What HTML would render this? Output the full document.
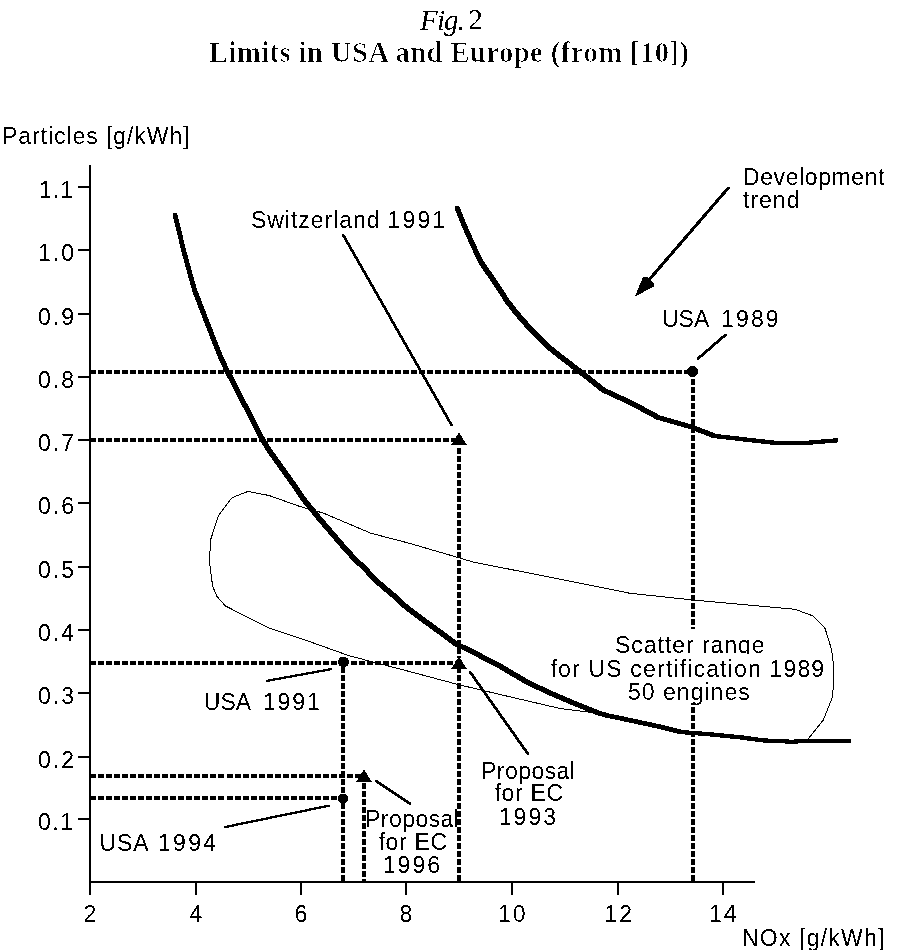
<!DOCTYPE html>
<html><head><meta charset="utf-8"><title>Fig. 2 Limits in USA and Europe (from [10])</title>
<style>html,body{margin:0;padding:0;background:#fff;overflow:hidden}svg{display:block}text{white-space:pre}</style></head>
<body><svg width="900" height="950" viewBox="0 0 900 950" font-family="Liberation Sans, Arial, Helvetica, sans-serif" font-size="23" fill="#000">
<rect width="900" height="950" fill="#fff"/>
<defs><filter id="bw" x="0" y="0" width="900" height="950" filterUnits="userSpaceOnUse" color-interpolation-filters="sRGB"><feColorMatrix type="matrix" values="0 0 0 0 0  0 0 0 0 0  0 0 0 0 0  -0.3333 -0.3333 -0.3333 1 0"/><feComponentTransfer><feFuncA type="discrete" tableValues="0 1"/></feComponentTransfer></filter></defs><g shape-rendering="crispEdges"><rect x="89" y="165" width="2" height="730"/>
<rect x="89" y="881" width="666" height="2"/>
<rect x="78" y="186" width="11" height="2"/>
<rect x="78" y="249" width="11" height="2"/>
<rect x="78" y="313" width="11" height="2"/>
<rect x="78" y="376" width="11" height="2"/>
<rect x="78" y="439" width="11" height="2"/>
<rect x="78" y="502" width="11" height="2"/>
<rect x="78" y="566" width="11" height="2"/>
<rect x="78" y="629" width="11" height="2"/>
<rect x="78" y="692" width="11" height="2"/>
<rect x="78" y="756" width="11" height="2"/>
<rect x="78" y="818" width="11" height="2"/>
<rect x="89" y="883" width="2" height="12"/>
<rect x="195" y="883" width="2" height="12"/>
<rect x="300" y="883" width="2" height="12"/>
<rect x="405" y="883" width="2" height="12"/>
<rect x="511" y="883" width="2" height="12"/>
<rect x="617" y="883" width="2" height="12"/>
<rect x="722" y="883" width="2" height="12"/>
<path d="M232,497.7 L248,491.4 L269,495.5 L300.2,506.6 L323.1,513 L370.8,533.2 L409.8,543.4 L459,557.8 L473.4,562.1 L557.2,578.6 L630,593.3 L693.3,600 L795,609.3 L813.3,616 L825,628.3 L831.7,650 L834,670 L832.7,696.7 L823.3,720 L810,736.7 L806,741 L766.7,740 L682.5,731.3 L604,714 L560,708.5 L500,694.5 L458,684.5 L400,669 L350,656 L300,638.2 L269,628.1 L225.3,605.9 L216.8,596.2 L212.6,586 L209.3,560.8 L210.9,538.9 L218.5,515.4 Z" fill="none" stroke="#000" stroke-width="1" stroke-linejoin="round" stroke-linecap="butt"/>
<path d="M173.1,213 L177.1,213 L186.2,250.6 L186.2,254.6 L182.2,254.6 L173.1,217ZM182.2,250.6 L186.2,250.6 L196.5,288 L196.5,292 L192.5,292 L182.2,254.6ZM192.5,288 L196.5,288 L209.8,322.7 L209.8,326.7 L205.8,326.7 L192.5,292ZM205.8,322.7 L209.8,322.7 L223.7,357.5 L223.7,361.5 L219.7,361.5 L205.8,326.7ZM219.7,357.5 L223.7,357.5 L229.1,369 L229.1,373 L225.1,373 L219.7,361.5ZM225.1,369 L229.1,369 L241.3,392.2 L241.3,396.2 L237.3,396.2 L225.1,373ZM237.3,392.2 L241.3,392.2 L244.2,398 L244.2,402 L240.2,402 L237.3,396.2ZM240.2,398 L244.2,398 L255.6,420.2 L255.6,424.2 L251.6,424.2 L240.2,402ZM251.6,420.2 L255.6,420.2 L260.9,431.3 L260.9,435.3 L256.9,435.3 L251.6,424.2ZM256.9,431.3 L260.9,431.3 L270.9,448 L270.9,452 L266.9,452 L256.9,435.3ZM266.9,448 L270.9,448 L282.8,464.7 L282.8,468.7 L278.8,468.7 L266.9,452ZM278.8,464.7 L282.8,464.7 L294.8,481.3 L294.8,485.3 L290.8,485.3 L278.8,468.7ZM290.8,481.3 L294.8,481.3 L306.1,498 L306.1,502 L302.1,502 L290.8,485.3ZM302.1,498 L306.1,498 L319.8,514.7 L319.8,518.7 L315.8,518.7 L302.1,502ZM315.8,514.7 L319.8,514.7 L333.9,531.3 L333.9,535.3 L329.9,535.3 L315.8,518.7ZM329.9,531.3 L333.9,531.3 L348.3,548 L348.3,552 L344.3,552 L329.9,535.3ZM344.3,548 L348.3,548 L356.1,556.3 L356.1,560.3 L352.1,560.3 L344.3,552ZM352.1,556.3 L356.1,556.3 L364.8,564.7 L364.8,568.7 L360.8,568.7 L352.1,560.3ZM360.8,564.7 L364.8,564.7 L381.1,581.3 L381.1,585.3 L377.1,585.3 L360.8,568.7ZM377.1,581.3 L381.1,581.3 L397,594.7 L397,598.7 L393,598.7 L377.1,585.3ZM393,594.7 L397,594.7 L403.1,601 L403.1,605 L399.1,605 L393,598.7ZM399.1,601 L403.1,601 L414.2,609.7 L414.2,613.7 L410.2,613.7 L399.1,605ZM410.2,609.7 L414.2,609.7 L425.3,618 L425.3,622 L421.3,622 L410.2,613.7ZM421.3,618 L425.3,618 L436.4,626 L436.4,630 L432.4,630 L421.3,622ZM432.4,626 L436.4,626 L447.6,634.1 L447.6,638.1 L443.6,638.1 L432.4,630ZM443.6,634.1 L447.6,634.1 L458.7,642.4 L458.7,646.4 L454.7,646.4 L443.6,638.1ZM454.7,642.4 L458.7,642.4 L469.8,647.4 L469.8,651.4 L465.8,651.4 L454.7,646.4ZM465.8,647.4 L469.8,647.4 L480.9,653.2 L480.9,657.2 L476.9,657.2 L465.8,651.4ZM476.9,653.2 L480.9,653.2 L492,658.8 L492,662.8 L488,662.8 L476.9,657.2ZM488,658.8 L492,658.8 L505.3,666 L505.3,670 L501.3,670 L488,662.8ZM501.3,666 L505.3,666 L528.7,680 L528.7,684 L524.7,684 L501.3,670ZM524.7,680 L528.7,680 L552,690.9 L552,694.9 L548,694.9 L524.7,684ZM548,690.9 L552,690.9 L575.3,701 L575.3,705 L571.3,705 L548,694.9ZM571.3,701 L575.3,701 L598.6,710.3 L598.6,714.3 L594.6,714.3 L571.3,705ZM594.6,710.3 L598.6,710.3 L609.5,713.7 L609.5,717.7 L605.5,717.7 L594.6,714.3ZM605.5,713.7 L609.5,713.7 L622,716.1 L622,720.1 L618,720.1 L605.5,717.7ZM618,716.1 L622,716.1 L633.1,718.5 L633.1,722.5 L629.1,722.5 L618,720.1ZM629.1,718.5 L633.1,718.5 L664.2,725.2 L664.2,729.2 L660.2,729.2 L629.1,722.5ZM660.2,725.2 L664.2,725.2 L682.9,730 L682.9,734 L678.9,734 L660.2,729.2ZM678.9,730 L682.9,730 L710.9,732.2 L710.9,736.2 L706.9,736.2 L678.9,734ZM706.9,732.2 L710.9,732.2 L742,735.3 L742,739.3 L738,739.3 L706.9,736.2ZM738,735.3 L742,735.3 L765.2,738.4 L765.2,742.4 L761.2,742.4 L738,739.3ZM761.2,738.4 L765.2,738.4 L792.7,739.7 L792.7,743.7 L788.7,743.7 L761.2,742.4ZM788.7,739.7 L814.7,738.8 L818.7,738.8 L818.7,742.8 L792.7,743.7 L788.7,743.7ZM814.7,738.8 L851,738.8 L851,742.8 L814.7,742.8Z"/>
<path d="M455.3,206.1 L459.3,206.1 L466.2,223.3 L466.2,227.3 L462.2,227.3 L455.3,210.1ZM462.2,223.3 L466.2,223.3 L474.5,242.3 L474.5,246.3 L470.5,246.3 L462.2,227.3ZM470.5,242.3 L474.5,242.3 L483.7,261.3 L483.7,265.3 L479.7,265.3 L470.5,246.3ZM479.7,261.3 L483.7,261.3 L488.1,267.6 L488.1,271.6 L484.1,271.6 L479.7,265.3ZM484.1,267.6 L488.1,267.6 L497,280.3 L497,284.3 L493,284.3 L484.1,271.6ZM493,280.3 L497,280.3 L509.3,299.3 L509.3,303.3 L505.3,303.3 L493,284.3ZM505.3,299.3 L509.3,299.3 L518.7,311.3 L518.7,315.3 L514.7,315.3 L505.3,303.3ZM514.7,311.3 L518.7,311.3 L532,326.7 L532,330.7 L528,330.7 L514.7,315.3ZM528,326.7 L532,326.7 L552,346.3 L552,350.3 L548,350.3 L528,330.7ZM548,346.3 L552,346.3 L562.7,354.7 L562.7,358.7 L558.7,358.7 L548,350.3ZM558.7,354.7 L562.7,354.7 L578.7,367 L578.7,371 L574.7,371 L558.7,358.7ZM574.7,367 L578.7,367 L592,377.3 L592,381.3 L588,381.3 L574.7,371ZM588,377.3 L592,377.3 L605.3,388 L605.3,392 L601.3,392 L588,381.3ZM601.3,388 L605.3,388 L618.7,394.3 L618.7,398.3 L614.7,398.3 L601.3,392ZM614.7,394.3 L618.7,394.3 L632,400.3 L632,404.3 L628,404.3 L614.7,398.3ZM628,400.3 L632,400.3 L660.4,415.6 L660.4,419.6 L656.4,419.6 L628,404.3ZM656.4,415.6 L660.4,415.6 L693.6,425.1 L693.6,429.1 L689.6,429.1 L656.4,419.6ZM689.6,425.1 L693.6,425.1 L716.6,434 L716.6,438 L712.6,438 L689.6,429.1ZM712.6,434 L716.6,434 L775.5,440.7 L775.5,444.7 L771.5,444.7 L712.6,438ZM771.5,440.7 L811.3,440.7 L811.3,444.7 L771.5,444.7ZM807.3,440.7 L834,438.4 L838,438.4 L838,442.4 L811.3,444.7 L807.3,444.7Z"/>
<rect x="90" y="370" width="6" height="4"/>
<rect x="98.03" y="370" width="6" height="4"/>
<rect x="106.06" y="370" width="6" height="4"/>
<rect x="114.09" y="370" width="6" height="4"/>
<rect x="122.12" y="370" width="6" height="4"/>
<rect x="130.15" y="370" width="6" height="4"/>
<rect x="138.18" y="370" width="6" height="4"/>
<rect x="146.21" y="370" width="6" height="4"/>
<rect x="154.24" y="370" width="6" height="4"/>
<rect x="162.27" y="370" width="6" height="4"/>
<rect x="170.3" y="370" width="6" height="4"/>
<rect x="178.33" y="370" width="6" height="4"/>
<rect x="186.36" y="370" width="6" height="4"/>
<rect x="194.39" y="370" width="6" height="4"/>
<rect x="202.42" y="370" width="6" height="4"/>
<rect x="210.45" y="370" width="6" height="4"/>
<rect x="218.48" y="370" width="6" height="4"/>
<rect x="226.51" y="370" width="6" height="4"/>
<rect x="234.54" y="370" width="6" height="4"/>
<rect x="242.57" y="370" width="6" height="4"/>
<rect x="250.6" y="370" width="6" height="4"/>
<rect x="258.63" y="370" width="6" height="4"/>
<rect x="266.66" y="370" width="6" height="4"/>
<rect x="274.69" y="370" width="6" height="4"/>
<rect x="282.72" y="370" width="6" height="4"/>
<rect x="290.75" y="370" width="6" height="4"/>
<rect x="298.78" y="370" width="6" height="4"/>
<rect x="306.81" y="370" width="6" height="4"/>
<rect x="314.84" y="370" width="6" height="4"/>
<rect x="322.87" y="370" width="6" height="4"/>
<rect x="330.9" y="370" width="6" height="4"/>
<rect x="338.93" y="370" width="6" height="4"/>
<rect x="346.96" y="370" width="6" height="4"/>
<rect x="354.99" y="370" width="6" height="4"/>
<rect x="363.02" y="370" width="6" height="4"/>
<rect x="371.05" y="370" width="6" height="4"/>
<rect x="379.08" y="370" width="6" height="4"/>
<rect x="387.11" y="370" width="6" height="4"/>
<rect x="395.14" y="370" width="6" height="4"/>
<rect x="403.17" y="370" width="6" height="4"/>
<rect x="411.2" y="370" width="6" height="4"/>
<rect x="419.23" y="370" width="6" height="4"/>
<rect x="427.26" y="370" width="6" height="4"/>
<rect x="435.29" y="370" width="6" height="4"/>
<rect x="443.32" y="370" width="6" height="4"/>
<rect x="451.35" y="370" width="6" height="4"/>
<rect x="459.38" y="370" width="6" height="4"/>
<rect x="467.41" y="370" width="6" height="4"/>
<rect x="475.44" y="370" width="6" height="4"/>
<rect x="483.47" y="370" width="6" height="4"/>
<rect x="491.5" y="370" width="6" height="4"/>
<rect x="499.53" y="370" width="6" height="4"/>
<rect x="507.56" y="370" width="6" height="4"/>
<rect x="515.59" y="370" width="6" height="4"/>
<rect x="523.62" y="370" width="6" height="4"/>
<rect x="531.65" y="370" width="6" height="4"/>
<rect x="539.68" y="370" width="6" height="4"/>
<rect x="547.71" y="370" width="6" height="4"/>
<rect x="555.74" y="370" width="6" height="4"/>
<rect x="563.77" y="370" width="6" height="4"/>
<rect x="571.8" y="370" width="6" height="4"/>
<rect x="579.83" y="370" width="6" height="4"/>
<rect x="587.86" y="370" width="6" height="4"/>
<rect x="595.89" y="370" width="6" height="4"/>
<rect x="603.92" y="370" width="6" height="4"/>
<rect x="611.95" y="370" width="6" height="4"/>
<rect x="619.98" y="370" width="6" height="4"/>
<rect x="628.01" y="370" width="6" height="4"/>
<rect x="636.04" y="370" width="6" height="4"/>
<rect x="644.07" y="370" width="6" height="4"/>
<rect x="652.1" y="370" width="6" height="4"/>
<rect x="660.13" y="370" width="6" height="4"/>
<rect x="668.16" y="370" width="6" height="4"/>
<rect x="676.19" y="370" width="6" height="4"/>
<rect x="684.22" y="370" width="5.78" height="4"/>
<rect x="90" y="438" width="6" height="4"/>
<rect x="98.03" y="438" width="6" height="4"/>
<rect x="106.06" y="438" width="6" height="4"/>
<rect x="114.09" y="438" width="6" height="4"/>
<rect x="122.12" y="438" width="6" height="4"/>
<rect x="130.15" y="438" width="6" height="4"/>
<rect x="138.18" y="438" width="6" height="4"/>
<rect x="146.21" y="438" width="6" height="4"/>
<rect x="154.24" y="438" width="6" height="4"/>
<rect x="162.27" y="438" width="6" height="4"/>
<rect x="170.3" y="438" width="6" height="4"/>
<rect x="178.33" y="438" width="6" height="4"/>
<rect x="186.36" y="438" width="6" height="4"/>
<rect x="194.39" y="438" width="6" height="4"/>
<rect x="202.42" y="438" width="6" height="4"/>
<rect x="210.45" y="438" width="6" height="4"/>
<rect x="218.48" y="438" width="6" height="4"/>
<rect x="226.51" y="438" width="6" height="4"/>
<rect x="234.54" y="438" width="6" height="4"/>
<rect x="242.57" y="438" width="6" height="4"/>
<rect x="250.6" y="438" width="6" height="4"/>
<rect x="258.63" y="438" width="6" height="4"/>
<rect x="266.66" y="438" width="6" height="4"/>
<rect x="274.69" y="438" width="6" height="4"/>
<rect x="282.72" y="438" width="6" height="4"/>
<rect x="290.75" y="438" width="6" height="4"/>
<rect x="298.78" y="438" width="6" height="4"/>
<rect x="306.81" y="438" width="6" height="4"/>
<rect x="314.84" y="438" width="6" height="4"/>
<rect x="322.87" y="438" width="6" height="4"/>
<rect x="330.9" y="438" width="6" height="4"/>
<rect x="338.93" y="438" width="6" height="4"/>
<rect x="346.96" y="438" width="6" height="4"/>
<rect x="354.99" y="438" width="6" height="4"/>
<rect x="363.02" y="438" width="6" height="4"/>
<rect x="371.05" y="438" width="6" height="4"/>
<rect x="379.08" y="438" width="6" height="4"/>
<rect x="387.11" y="438" width="6" height="4"/>
<rect x="395.14" y="438" width="6" height="4"/>
<rect x="403.17" y="438" width="6" height="4"/>
<rect x="411.2" y="438" width="6" height="4"/>
<rect x="419.23" y="438" width="6" height="4"/>
<rect x="427.26" y="438" width="6" height="4"/>
<rect x="435.29" y="438" width="6" height="4"/>
<rect x="443.32" y="438" width="6" height="4"/>
<rect x="451.35" y="438" width="6" height="4"/>
<rect x="90" y="661" width="6" height="4"/>
<rect x="98.03" y="661" width="6" height="4"/>
<rect x="106.06" y="661" width="6" height="4"/>
<rect x="114.09" y="661" width="6" height="4"/>
<rect x="122.12" y="661" width="6" height="4"/>
<rect x="130.15" y="661" width="6" height="4"/>
<rect x="138.18" y="661" width="6" height="4"/>
<rect x="146.21" y="661" width="6" height="4"/>
<rect x="154.24" y="661" width="6" height="4"/>
<rect x="162.27" y="661" width="6" height="4"/>
<rect x="170.3" y="661" width="6" height="4"/>
<rect x="178.33" y="661" width="6" height="4"/>
<rect x="186.36" y="661" width="6" height="4"/>
<rect x="194.39" y="661" width="6" height="4"/>
<rect x="202.42" y="661" width="6" height="4"/>
<rect x="210.45" y="661" width="6" height="4"/>
<rect x="218.48" y="661" width="6" height="4"/>
<rect x="226.51" y="661" width="6" height="4"/>
<rect x="234.54" y="661" width="6" height="4"/>
<rect x="242.57" y="661" width="6" height="4"/>
<rect x="250.6" y="661" width="6" height="4"/>
<rect x="258.63" y="661" width="6" height="4"/>
<rect x="266.66" y="661" width="6" height="4"/>
<rect x="274.69" y="661" width="6" height="4"/>
<rect x="282.72" y="661" width="6" height="4"/>
<rect x="290.75" y="661" width="6" height="4"/>
<rect x="298.78" y="661" width="6" height="4"/>
<rect x="306.81" y="661" width="6" height="4"/>
<rect x="314.84" y="661" width="6" height="4"/>
<rect x="322.87" y="661" width="6" height="4"/>
<rect x="330.9" y="661" width="6" height="4"/>
<rect x="338.93" y="661" width="1.07" height="4"/>
<rect x="351" y="661" width="6" height="4"/>
<rect x="359" y="661" width="6" height="4"/>
<rect x="367" y="661" width="6" height="4"/>
<rect x="375" y="661" width="6" height="4"/>
<rect x="383" y="661" width="6" height="4"/>
<rect x="391" y="661" width="6" height="4"/>
<rect x="399" y="661" width="6" height="4"/>
<rect x="407" y="661" width="6" height="4"/>
<rect x="415" y="661" width="6" height="4"/>
<rect x="423" y="661" width="6" height="4"/>
<rect x="431" y="661" width="6" height="4"/>
<rect x="439" y="661" width="6" height="4"/>
<rect x="447" y="661" width="6" height="4"/>
<rect x="455" y="661" width="3" height="4"/>
<rect x="90" y="774" width="6" height="4"/>
<rect x="98.03" y="774" width="6" height="4"/>
<rect x="106.06" y="774" width="6" height="4"/>
<rect x="114.09" y="774" width="6" height="4"/>
<rect x="122.12" y="774" width="6" height="4"/>
<rect x="130.15" y="774" width="6" height="4"/>
<rect x="138.18" y="774" width="6" height="4"/>
<rect x="146.21" y="774" width="6" height="4"/>
<rect x="154.24" y="774" width="6" height="4"/>
<rect x="162.27" y="774" width="6" height="4"/>
<rect x="170.3" y="774" width="6" height="4"/>
<rect x="178.33" y="774" width="6" height="4"/>
<rect x="186.36" y="774" width="6" height="4"/>
<rect x="194.39" y="774" width="6" height="4"/>
<rect x="202.42" y="774" width="6" height="4"/>
<rect x="210.45" y="774" width="6" height="4"/>
<rect x="218.48" y="774" width="6" height="4"/>
<rect x="226.51" y="774" width="6" height="4"/>
<rect x="234.54" y="774" width="6" height="4"/>
<rect x="242.57" y="774" width="6" height="4"/>
<rect x="250.6" y="774" width="6" height="4"/>
<rect x="258.63" y="774" width="6" height="4"/>
<rect x="266.66" y="774" width="6" height="4"/>
<rect x="274.69" y="774" width="6" height="4"/>
<rect x="282.72" y="774" width="6" height="4"/>
<rect x="290.75" y="774" width="6" height="4"/>
<rect x="298.78" y="774" width="6" height="4"/>
<rect x="306.81" y="774" width="6" height="4"/>
<rect x="314.84" y="774" width="6" height="4"/>
<rect x="322.87" y="774" width="6" height="4"/>
<rect x="330.9" y="774" width="6" height="4"/>
<rect x="338.93" y="774" width="6" height="4"/>
<rect x="346.96" y="774" width="6" height="4"/>
<rect x="354.99" y="774" width="6" height="4"/>
<rect x="90" y="796" width="6" height="4"/>
<rect x="98.03" y="796" width="6" height="4"/>
<rect x="106.06" y="796" width="6" height="4"/>
<rect x="114.09" y="796" width="6" height="4"/>
<rect x="122.12" y="796" width="6" height="4"/>
<rect x="130.15" y="796" width="6" height="4"/>
<rect x="138.18" y="796" width="6" height="4"/>
<rect x="146.21" y="796" width="6" height="4"/>
<rect x="154.24" y="796" width="6" height="4"/>
<rect x="162.27" y="796" width="6" height="4"/>
<rect x="170.3" y="796" width="6" height="4"/>
<rect x="178.33" y="796" width="6" height="4"/>
<rect x="186.36" y="796" width="6" height="4"/>
<rect x="194.39" y="796" width="6" height="4"/>
<rect x="202.42" y="796" width="6" height="4"/>
<rect x="210.45" y="796" width="6" height="4"/>
<rect x="218.48" y="796" width="6" height="4"/>
<rect x="226.51" y="796" width="6" height="4"/>
<rect x="234.54" y="796" width="6" height="4"/>
<rect x="242.57" y="796" width="6" height="4"/>
<rect x="250.6" y="796" width="6" height="4"/>
<rect x="258.63" y="796" width="6" height="4"/>
<rect x="266.66" y="796" width="6" height="4"/>
<rect x="274.69" y="796" width="6" height="4"/>
<rect x="282.72" y="796" width="6" height="4"/>
<rect x="290.75" y="796" width="6" height="4"/>
<rect x="298.78" y="796" width="6" height="4"/>
<rect x="306.81" y="796" width="6" height="4"/>
<rect x="314.84" y="796" width="6" height="4"/>
<rect x="322.87" y="796" width="6" height="4"/>
<rect x="330.9" y="796" width="6" height="4"/>
<rect x="338.93" y="796" width="1.07" height="4"/>
<rect x="691" y="379" width="4" height="6"/>
<rect x="691" y="387" width="4" height="6"/>
<rect x="691" y="395" width="4" height="6"/>
<rect x="691" y="403" width="4" height="6"/>
<rect x="691" y="411" width="4" height="6"/>
<rect x="691" y="419" width="4" height="6"/>
<rect x="691" y="427" width="4" height="6"/>
<rect x="691" y="435" width="4" height="6"/>
<rect x="691" y="443" width="4" height="6"/>
<rect x="691" y="451" width="4" height="6"/>
<rect x="691" y="459" width="4" height="6"/>
<rect x="691" y="467" width="4" height="6"/>
<rect x="691" y="475" width="4" height="6"/>
<rect x="691" y="483" width="4" height="6"/>
<rect x="691" y="491" width="4" height="6"/>
<rect x="691" y="499" width="4" height="6"/>
<rect x="691" y="507" width="4" height="6"/>
<rect x="691" y="515" width="4" height="6"/>
<rect x="691" y="523" width="4" height="6"/>
<rect x="691" y="531" width="4" height="6"/>
<rect x="691" y="539" width="4" height="6"/>
<rect x="691" y="547" width="4" height="6"/>
<rect x="691" y="555" width="4" height="6"/>
<rect x="691" y="563" width="4" height="6"/>
<rect x="691" y="571" width="4" height="6"/>
<rect x="691" y="579" width="4" height="6"/>
<rect x="691" y="587" width="4" height="6"/>
<rect x="691" y="595" width="4" height="6"/>
<rect x="691" y="603" width="4" height="6"/>
<rect x="691" y="611" width="4" height="6"/>
<rect x="691" y="619" width="4" height="6"/>
<rect x="691" y="627" width="4" height="6"/>
<rect x="691" y="635" width="4" height="6"/>
<rect x="691" y="643" width="4" height="6"/>
<rect x="691" y="651" width="4" height="6"/>
<rect x="691" y="659" width="4" height="6"/>
<rect x="691" y="667" width="4" height="6"/>
<rect x="691" y="675" width="4" height="6"/>
<rect x="691" y="683" width="4" height="6"/>
<rect x="691" y="691" width="4" height="6"/>
<rect x="691" y="699" width="4" height="6"/>
<rect x="691" y="707" width="4" height="6"/>
<rect x="691" y="715" width="4" height="6"/>
<rect x="691" y="723" width="4" height="6"/>
<rect x="691" y="731" width="4" height="6"/>
<rect x="691" y="739" width="4" height="6"/>
<rect x="691" y="747" width="4" height="6"/>
<rect x="691" y="755" width="4" height="6"/>
<rect x="691" y="763" width="4" height="6"/>
<rect x="691" y="771" width="4" height="6"/>
<rect x="691" y="779" width="4" height="6"/>
<rect x="691" y="787" width="4" height="6"/>
<rect x="691" y="795" width="4" height="6"/>
<rect x="691" y="803" width="4" height="6"/>
<rect x="691" y="811" width="4" height="6"/>
<rect x="691" y="819" width="4" height="6"/>
<rect x="691" y="827" width="4" height="6"/>
<rect x="691" y="835" width="4" height="6"/>
<rect x="691" y="843" width="4" height="6"/>
<rect x="691" y="851" width="4" height="6"/>
<rect x="691" y="859" width="4" height="6"/>
<rect x="691" y="867" width="4" height="6"/>
<rect x="691" y="875" width="4" height="6"/>
<rect x="457" y="448" width="4" height="6"/>
<rect x="457" y="456" width="4" height="6"/>
<rect x="457" y="464" width="4" height="6"/>
<rect x="457" y="472" width="4" height="6"/>
<rect x="457" y="480" width="4" height="6"/>
<rect x="457" y="488" width="4" height="6"/>
<rect x="457" y="496" width="4" height="6"/>
<rect x="457" y="504" width="4" height="6"/>
<rect x="457" y="512" width="4" height="6"/>
<rect x="457" y="520" width="4" height="6"/>
<rect x="457" y="528" width="4" height="6"/>
<rect x="457" y="536" width="4" height="6"/>
<rect x="457" y="544" width="4" height="6"/>
<rect x="457" y="552" width="4" height="6"/>
<rect x="457" y="560" width="4" height="6"/>
<rect x="457" y="568" width="4" height="6"/>
<rect x="457" y="576" width="4" height="6"/>
<rect x="457" y="584" width="4" height="6"/>
<rect x="457" y="592" width="4" height="6"/>
<rect x="457" y="600" width="4" height="6"/>
<rect x="457" y="608" width="4" height="6"/>
<rect x="457" y="616" width="4" height="6"/>
<rect x="457" y="624" width="4" height="6"/>
<rect x="457" y="632" width="4" height="6"/>
<rect x="457" y="640" width="4" height="6"/>
<rect x="457" y="648" width="4" height="6"/>
<rect x="457" y="656" width="4" height="2"/>
<rect x="457" y="667" width="4" height="6"/>
<rect x="457" y="675" width="4" height="6"/>
<rect x="457" y="683" width="4" height="6"/>
<rect x="457" y="691" width="4" height="6"/>
<rect x="457" y="699" width="4" height="6"/>
<rect x="457" y="707" width="4" height="6"/>
<rect x="457" y="715" width="4" height="6"/>
<rect x="457" y="723" width="4" height="6"/>
<rect x="457" y="731" width="4" height="6"/>
<rect x="457" y="739" width="4" height="6"/>
<rect x="457" y="747" width="4" height="6"/>
<rect x="457" y="755" width="4" height="6"/>
<rect x="457" y="763" width="4" height="6"/>
<rect x="457" y="771" width="4" height="6"/>
<rect x="457" y="779" width="4" height="6"/>
<rect x="457" y="787" width="4" height="6"/>
<rect x="457" y="795" width="4" height="6"/>
<rect x="457" y="803" width="4" height="6"/>
<rect x="457" y="811" width="4" height="6"/>
<rect x="457" y="819" width="4" height="6"/>
<rect x="457" y="827" width="4" height="6"/>
<rect x="457" y="835" width="4" height="6"/>
<rect x="457" y="843" width="4" height="6"/>
<rect x="457" y="851" width="4" height="6"/>
<rect x="457" y="859" width="4" height="6"/>
<rect x="457" y="867" width="4" height="6"/>
<rect x="457" y="875" width="4" height="6"/>
<rect x="341" y="667" width="4" height="6"/>
<rect x="341" y="675" width="4" height="6"/>
<rect x="341" y="683" width="4" height="6"/>
<rect x="341" y="691" width="4" height="6"/>
<rect x="341" y="699" width="4" height="6"/>
<rect x="341" y="707" width="4" height="6"/>
<rect x="341" y="715" width="4" height="6"/>
<rect x="341" y="723" width="4" height="6"/>
<rect x="341" y="731" width="4" height="6"/>
<rect x="341" y="739" width="4" height="6"/>
<rect x="341" y="747" width="4" height="6"/>
<rect x="341" y="755" width="4" height="6"/>
<rect x="341" y="763" width="4" height="6"/>
<rect x="341" y="771" width="4" height="6"/>
<rect x="341" y="779" width="4" height="6"/>
<rect x="341" y="787" width="4" height="6"/>
<rect x="341" y="795" width="4" height="6"/>
<rect x="341" y="803" width="4" height="6"/>
<rect x="341" y="811" width="4" height="6"/>
<rect x="341" y="819" width="4" height="6"/>
<rect x="341" y="827" width="4" height="6"/>
<rect x="341" y="835" width="4" height="6"/>
<rect x="341" y="843" width="4" height="6"/>
<rect x="341" y="851" width="4" height="6"/>
<rect x="341" y="859" width="4" height="6"/>
<rect x="341" y="867" width="4" height="6"/>
<rect x="341" y="875" width="4" height="6"/>
<rect x="362" y="783" width="4" height="6"/>
<rect x="362" y="791" width="4" height="6"/>
<rect x="362" y="799" width="4" height="6"/>
<rect x="362" y="807" width="4" height="6"/>
<rect x="362" y="815" width="4" height="6"/>
<rect x="362" y="823" width="4" height="6"/>
<rect x="362" y="831" width="4" height="6"/>
<rect x="362" y="839" width="4" height="6"/>
<rect x="362" y="847" width="4" height="6"/>
<rect x="362" y="855" width="4" height="6"/>
<rect x="362" y="863" width="4" height="6"/>
<rect x="362" y="871" width="4" height="6"/>
<rect x="362" y="879" width="4" height="2"/>
<circle cx="692.5" cy="371.5" r="5.5"/>
<circle cx="343.5" cy="662" r="5.5"/>
<circle cx="343" cy="798.5" r="5"/>
<polygon points="459,432.5 451,445.0 467,445.0"/>
<polygon points="459,656.5 451,669.0 467,669.0"/>
<polygon points="364,769.5 356,782.0 372,782.0"/>
<rect x="615" y="629" width="150" height="25" fill="#fff"/>
<rect x="549" y="654" width="277" height="24" fill="#fff"/>
<rect x="627" y="678" width="124" height="25" fill="#fff"/>
<path d="M342.2,234 L344.2,234 L452.5,424 L452.5,426 L450.5,426 L342.2,236Z"/>
<path d="M696.6,358 L724.6,333.7 L726.6,333.7 L726.6,335.7 L698.6,360 L696.6,360Z"/>
<path d="M266,679.8 L329.8,668.2 L331.8,668.2 L331.8,670.2 L268,681.8 L266,681.8Z"/>
<path d="M224.3,826 L328.4,804.6 L330.4,804.6 L330.4,806.6 L226.3,828 L224.3,828Z"/>
<path d="M468.7,670.5 L470.7,670.5 L529,753 L529,755 L527,755 L468.7,672.5Z"/>
<path d="M375,780 L377,780 L411.3,803 L411.3,805 L409.3,805 L375,782Z"/>
<path d="M646.9,279.9 L727.5,186.5 L729.7,186.5 L729.7,188.7 L649.1,282.1 L646.9,282.1Z"/>
<polygon points="635,296.5 643,277 646.5,276.5 654,284 654,286.5"/></g>
<g filter="url(#bw)"><text x="420" y="29.5" font-size="29" font-family="Liberation Serif, Times New Roman, serif" font-style="italic" textLength="45.03" lengthAdjust="spacing">Fig.</text>
<text x="468.6" y="29.2" font-size="28.5" font-family="Liberation Serif, Times New Roman, serif">2</text>
<text x="209" y="62" font-size="28.5" font-family="Liberation Serif, Times New Roman, serif" font-weight="bold" textLength="479.91" lengthAdjust="spacing" stroke="#fff" stroke-width="0.4">Limits in USA and Europe (from [10])</text>
<text x="2" y="144" textLength="187.55" lengthAdjust="spacing">Particles [g/kWh]</text>
<text x="742" y="945.5" textLength="142.36" lengthAdjust="spacing">NOx [g/kWh]</text>
<text x="38.8" y="197.7" textLength="34.18" lengthAdjust="spacing">1.1</text>
<text x="38" y="260.7" textLength="35.98" lengthAdjust="spacing">1.0</text>
<text x="38" y="324.7" textLength="35.98" lengthAdjust="spacing">0.9</text>
<text x="38" y="387.7" textLength="35.98" lengthAdjust="spacing">0.8</text>
<text x="38" y="450.7" textLength="35.98" lengthAdjust="spacing">0.7</text>
<text x="38" y="513.7" textLength="35.98" lengthAdjust="spacing">0.6</text>
<text x="38" y="577.7" textLength="35.98" lengthAdjust="spacing">0.5</text>
<text x="38" y="640.7" textLength="35.98" lengthAdjust="spacing">0.4</text>
<text x="38" y="703.7" textLength="35.98" lengthAdjust="spacing">0.3</text>
<text x="38" y="767.7" textLength="35.98" lengthAdjust="spacing">0.2</text>
<text x="38" y="829.7" textLength="34.98" lengthAdjust="spacing">0.1</text>
<text x="83.5" y="922">2</text>
<text x="189.5" y="922">4</text>
<text x="294.5" y="922">6</text>
<text x="399.5" y="922">8</text>
<text x="498" y="922" textLength="27.59" lengthAdjust="spacing">10</text>
<text x="604.5" y="922" textLength="27.59" lengthAdjust="spacing">12</text>
<text x="709" y="922" textLength="27.59" lengthAdjust="spacing">14</text>
<rect x="615" y="629" width="150" height="25" fill="#fff"/>
<text x="615" y="653" textLength="149.59" lengthAdjust="spacing">Scatter range</text>
<rect x="549" y="654" width="277" height="24" fill="#fff"/>
<text x="550.5" y="677" textLength="273.65" lengthAdjust="spacing">for US certification 1989</text>
<rect x="627" y="678" width="124" height="25" fill="#fff"/>
<text x="628" y="700" textLength="121.75" lengthAdjust="spacing">50 engines</text>
<text y="228"><tspan x="251" textLength="128.49" lengthAdjust="spacing">Switzerland</tspan> <tspan x="387.6" textLength="57.57" lengthAdjust="spacing">1991</tspan></text>
<text x="743" y="185" textLength="141.53" lengthAdjust="spacing">Development</text>
<text x="743" y="208" textLength="56.44" lengthAdjust="spacing">trend</text>
<text y="327"><tspan x="662">USA</tspan> <tspan x="720.9" textLength="57.77" lengthAdjust="spacing">1989</tspan></text>
<text y="710"><tspan x="203.8">USA</tspan> <tspan x="262.7" textLength="57.17" lengthAdjust="spacing">1991</tspan></text>
<text y="851"><tspan x="99.5" textLength="47.8" lengthAdjust="spacing">USA</tspan> <tspan x="157.7" textLength="58.47" lengthAdjust="spacing">1994</tspan></text>
<text x="481" y="779" textLength="93.98" lengthAdjust="spacing">Proposal</text>
<text x="494.4" y="801" textLength="68.69" lengthAdjust="spacing">for EC</text>
<text x="498.8" y="825" textLength="57.27" lengthAdjust="spacing">1993</text>
<text x="365" y="827" textLength="93.98" lengthAdjust="spacing">Proposal</text>
<text x="378.4" y="849.5" textLength="68.69" lengthAdjust="spacing">for EC</text>
<text x="382.8" y="872.5" textLength="57.27" lengthAdjust="spacing">1996</text></g>
</svg></body></html>
